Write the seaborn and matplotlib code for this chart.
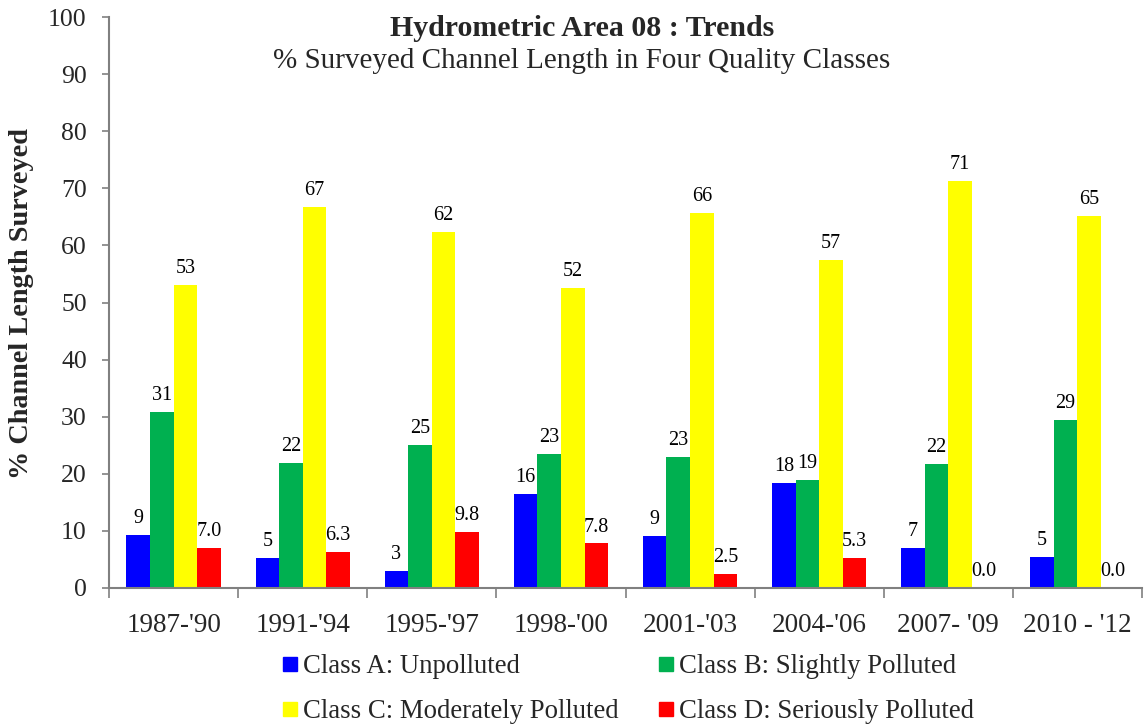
import matplotlib
matplotlib.use("Agg")
import matplotlib.pyplot as plt
from matplotlib.lines import Line2D
import seaborn as sns
import pandas as pd

periods = ["1987-'90", "1991-'94", "1995-'97", "1998-'00", "2001-'03", "2004-'06", "2007- '09", "2010 - '12"]
class_names = ["Class A: Unpolluted", "Class B: Slightly Polluted",
               "Class C: Moderately Polluted", "Class D: Seriously Polluted"]
class_a = [9.3, 5.2, 2.9, 16.4, 9.1, 18.4, 7.0, 5.4]
class_b = [30.8, 21.9, 25.0, 23.4, 23.0, 18.9, 21.7, 29.4]
class_c = [53.0, 66.7, 62.3, 52.5, 65.6, 57.4, 71.3, 65.2]
class_d = [7.0, 6.3, 9.8, 7.8, 2.5, 5.3, 0.0, 0.0]
colors = ["#0000FF", "#00B050", "#FFFF00", "#FF0000"]

sns.set_theme(style="white")
plt.rcParams["font.family"] = ["Liberation Serif", "DejaVu Serif"]

rows = []
for vals, name in zip([class_a, class_b, class_c, class_d], class_names):
    for p, v in zip(periods, vals):
        rows.append({"Period": p, "Class": name, "Value": v})
df = pd.DataFrame(rows)

fig = plt.figure(figsize=(11.44, 7.27), dpi=100)
ax = fig.add_axes([109 / 1144, 1 - 588 / 727, (1142 - 109) / 1144, (588 - 17) / 727])

sns.barplot(data=df, x="Period", y="Value", hue="Class", order=periods,
            hue_order=class_names, palette=colors, width=0.73, gap=0,
            linewidth=0, saturation=1, legend=False, ax=ax, errorbar=None)

fmts = ["%.0f", "%.0f", "%.0f", "%.1f"]
for cont, fmt in zip(ax.containers, fmts):
    ax.bar_label(cont, fmt=fmt, padding=5, fontsize=14.5, color="black")

ax.set_xlim(-0.5, 7.5)
ax.set_ylim(0, 100)
ax.set_yticks(range(0, 101, 10))
ax.tick_params(axis="y", which="major", direction="out", length=5, width=1.2,
               color="#808080", labelsize=18.5, pad=11, left=True)
ax.set_xticks(range(len(periods)))
ax.set_xticklabels(periods)
ax.tick_params(axis="x", which="major", length=0, labelsize=19.5, pad=18)
ax.set_xticks([i - 0.5 for i in range(len(periods) + 1)], minor=True)
ax.tick_params(axis="x", which="minor", direction="out", length=7, width=1.2,
               color="#808080", bottom=True)
for s in ["top", "right"]:
    ax.spines[s].set_visible(False)
for s in ["left", "bottom"]:
    ax.spines[s].set_color("#808080")
    ax.spines[s].set_linewidth(1.5)
ax.set_xlabel("")
ax.set_ylabel("% Channel Length Surveyed", fontsize=20.3, fontweight="bold")
ax.yaxis.set_label_coords((34 - 109) / 1033, (588 - 303) / 571)
ax.grid(False)

fig.text(582 / 1144, 1 - 28 / 727, "Hydrometric Area 08 : Trends", ha="center", va="center",
         fontsize=21.5, fontweight="bold")
fig.text(582 / 1144, 1 - 61 / 727, "% Surveyed Channel Length in Four Quality Classes",
         ha="center", va="center", fontsize=21)

handles = [Line2D([0], [0], marker="s", linestyle="none", markersize=10,
                  markerfacecolor=c, markeredgecolor=c) for c in colors]
order = [0, 2, 1, 3]
fig.legend([handles[i] for i in order], [class_names[i] for i in order], ncol=2,
           loc="center", bbox_to_anchor=(628 / 1144, 1 - 689 / 727), frameon=False,
           fontsize=19.3, handlelength=0.55, handletextpad=0.2, columnspacing=1.5,
           labelspacing=0.75, borderaxespad=0)

fig.savefig("out.png", dpi=100)
